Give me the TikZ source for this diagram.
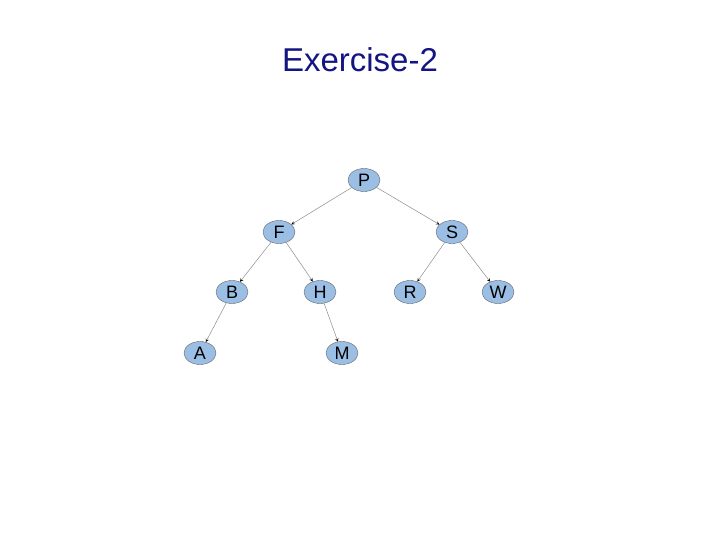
\documentclass[tikz,border=0pt]{standalone}
\usepackage{fontspec}
\setmainfont{Liberation Sans}
\usetikzlibrary{shapes.geometric}
\definecolor{nodefill}{RGB}{155,190,228}
\definecolor{titleblue}{RGB}{20,20,130}
\newcommand{\px}[0] {1pt}

\begin{document}
\begin{tikzpicture}[x=\px, y=-\px,
        vertex/.style={shape=ellipse,draw=black!60,fill=nodefill,minimum width=32pt,minimum height=23pt,inner sep=0pt,font=\fontsize{18}{18}\selectfont},
        link/.style={->, >=stealth, draw=black!45, line width=0.5pt}]
        \useasboundingbox (0,0) rectangle (720,540);
        %title
        \node[text=titleblue,font=\fontsize{33}{36}\selectfont] (title) at (360,60) {Exercise-2};
        %root
        \node[vertex] (p) at (364,180) {P};
        %second level
        \node[vertex] (f) at (279,232) {F};
        \node[vertex] (s) at (452,232) {S};
        %third level
        \node[vertex] (b) at (232,292) {B};
        \node[vertex] (h) at (320,292) {H};
        \node[vertex] (r) at (410,292) {R};
        \node[vertex] (w) at (498,292) {W};
        %fourth level
        \node[vertex] (a) at (200,353) {A};
        \node[vertex] (m) at (342,353) {M};
        %connections
        \path[link] (p) edge (f);
        \path[link] (p) edge (s);
        \path[link] (f) edge (b);
        \path[link] (f) edge (h);
        \path[link] (s) edge (r);
        \path[link] (s) edge (w);
        \path[link] (b) edge (a);
        \path[link] (h) edge (m);
    \end{tikzpicture}
\end{document}
